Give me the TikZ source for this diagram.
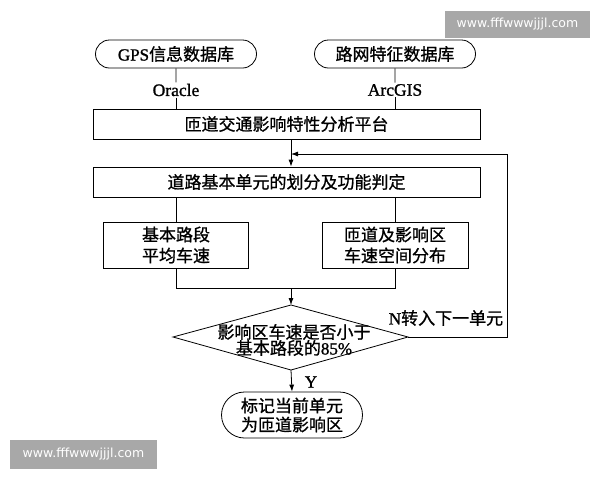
\documentclass[tikz,border=0pt]{standalone}
\usepackage{fontspec}
\setmainfont{Liberation Serif}[FakeBold=1.2]
\newfontfamily\cjk{Noto Sans CJK SC}[FakeBold=1.0]
\newfontfamily\wmfont{DejaVu Sans}
\usetikzlibrary{shapes.misc,arrows.meta}
\newcommand{\zh}[1]{{\cjk #1}}
\begin{document}
\begin{tikzpicture}[x=1pt,y=-1pt,
  line width=0.8pt,
  every node/.style={font=\fontsize{17}{21}\selectfont, inner sep=2pt},
  boxnode/.style={draw, rectangle, align=center},
  termnode/.style={draw, rounded rectangle, align=center},
  lbl/.style={fill=white, inner sep=1pt},
  arr/.style={-{Latex[length=7pt,width=5pt]}},
  wmark/.style={fill=black!34, text=white, font=\wmfont\fontsize{12.5}{14}\selectfont, inner sep=0pt}
]
\path[use as bounding box, fill=white] (0,0) rectangle (600,480);

% watermarks
\node[wmark, minimum width=145pt, minimum height=27pt] (wm1) at (517.5,24) {www.fffwwwjjjl.com};
\node[wmark, minimum width=147pt, minimum height=29pt] (wm2) at (83.5,454.5) {www.fffwwwjjjl.com};

% top databases
\node[termnode, minimum width=165pt, minimum height=28pt] (gps) at (176,54) {GPS\zh{信息数据库}};
\node[termnode, minimum width=165pt, minimum height=28pt] (road) at (395,54) {\zh{路网特征数据库}};
\node[lbl, font=\fontsize{17.5}{21}\selectfont] (oracle) at (176,90) {Oracle};
\node[lbl, font=\fontsize{17.5}{21}\selectfont] (arcgis) at (395,90) {ArcGIS};

% platform
\node[boxnode, minimum width=387pt, minimum height=30pt] (plat) at (286.5,124) {\zh{匝道交通影响特性分析平台}};
% division
\node[boxnode, minimum width=387pt, minimum height=30pt] (div) at (286.5,182) {\zh{道路基本单元的划分及功能判定}};

% two analysis boxes
\node[boxnode, minimum width=145pt, minimum height=46pt] (seg) at (176,245) {\zh{基本路段}\\\zh{平均车速}};
\node[boxnode, minimum width=146pt, minimum height=46pt] (ramp) at (395,245) {\zh{匝道及影响区}\\\zh{车速空间分布}};

% diamond
\coordinate (dT) at (291,305);
\coordinate (dR) at (408,337);
\coordinate (dB) at (291,370);
\coordinate (dL) at (173,337);
\draw (dT) -- (dR) -- (dB) -- (dL) -- cycle;
\node[align=center, font=\fontsize{17}{16}\selectfont] (dtext) at (294,340) {\zh{影响区车速是否小于}\\\zh{基本路段的}85\%};

% terminal
\node[termnode, minimum width=145pt, minimum height=46pt, font=\fontsize{17}{19}\selectfont] (term) at (292,415) {\zh{标记当前单元}\\\zh{为匝道影响区}};

% labels
\node (nlbl) at (446,318) {N\zh{转入下一单元}};
\node (ylbl) at (311,382) {Y};

% junction coordinates
\coordinate (j) at (291,154);
\coordinate (fb) at (507,154);
\coordinate (m) at (291,288);

% connectors
\draw (gps) -- (oracle);
\draw (oracle) -- (plat.north -| oracle);
\draw (road) -- (arcgis);
\draw (arcgis) -- (plat.north -| arcgis);
\draw (plat.south -| j) -- (j);
\draw[arr] (j) -- (div.north -| j);
\draw[arr] (dR) -| (fb) -- (j);
\draw (div.south -| seg) -- (seg.north);
\draw (div.south -| ramp) -- (ramp.north);
\draw (seg.south) |- (ramp.south |- m) -- (ramp.south);
\draw[arr] (m) -- (dT);
\draw[arr] (dB) -- (term.north);
\end{tikzpicture}
\end{document}
